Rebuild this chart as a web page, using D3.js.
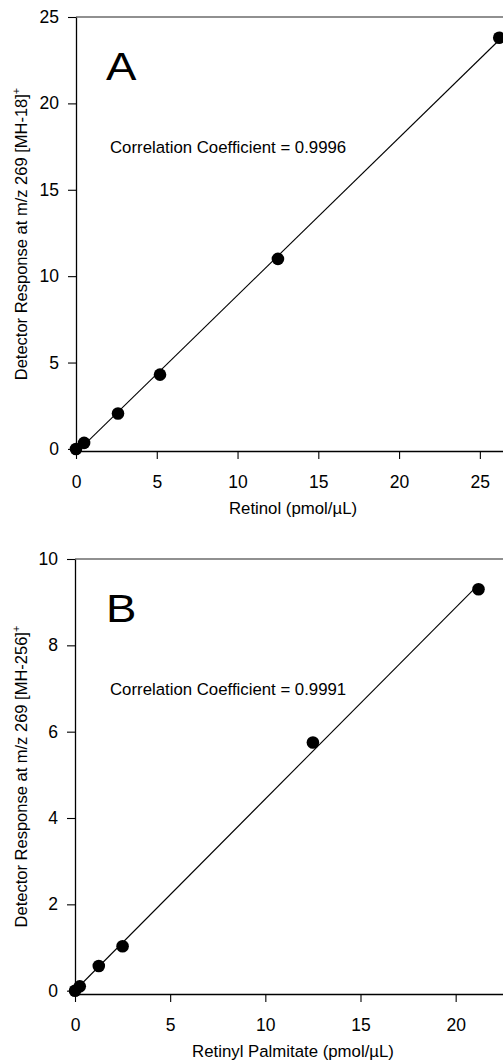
<!DOCTYPE html>
<html>
<head>
<meta charset="utf-8">
<script src="https://cdn.jsdelivr.net/npm/d3@7"></script>
<style>
  html, body { margin: 0; padding: 0; background: #fff; }
  svg text { font-family: "Liberation Sans", Arial, sans-serif; fill: #000; }
</style>
</head>
<body>
<svg id="chart" width="503" height="1060"></svg>
<script>
// panel A: retinol calibration
const retinolX = [0, 0.5, 2.6, 5.2, 12.5, 26.2];
const retinolY = [0, 0.35, 2.05, 4.3, 11.0, 23.8];
const retinolXTicks = [0, 5, 10, 15, 20, 25];
const retinolYTicks = [0, 5, 10, 15, 20, 25];

// panel B: retinyl palmitate calibration
const palmitateX = [0, 0.25, 1.25, 2.5, 12.5, 21.2];
const palmitateY = [0, 0.1, 0.57, 1.03, 5.75, 9.3];
const palmitateXTicks = [0, 5, 10, 15, 20];
const palmitateYTicks = [0, 2, 4, 6, 8, 10];

const svg = d3.select("#chart");

function fitLine(xs, ys) {
  const mx = d3.mean(xs), my = d3.mean(ys);
  let sxy = 0, sxx = 0;
  xs.forEach((x, i) => {
    sxy += (x - mx) * (ys[i] - my);
    sxx += (x - mx) * (x - mx);
  });
  const slope = sxy / sxx;
  return { slope, intercept: my - slope * mx };
}

function drawPanel(cfg) {
  const g = svg.append("g");

  const x = d3.scaleLinear().domain(cfg.xDomain).range([cfg.left, 512]);
  const y = d3.scaleLinear().domain(cfg.yDomain).range([cfg.bottom, cfg.top]);

  // top frame line
  g.append("line")
    .attr("x1", cfg.left).attr("x2", 512)
    .attr("y1", cfg.top).attr("y2", cfg.top)
    .attr("stroke", "#222").attr("stroke-width", 1.2);

  const xAxis = g.append("g")
    .attr("transform", `translate(0,${cfg.bottom})`)
    .call(d3.axisBottom(x).tickValues(cfg.xTicks).tickSize(8).tickPadding(17).tickSizeOuter(0));

  const yAxis = g.append("g")
    .attr("transform", `translate(${cfg.left},0)`)
    .call(d3.axisLeft(y).tickValues(cfg.yTicks).tickSize(8).tickPadding(9).tickSizeOuter(0));

  [xAxis, yAxis].forEach(a => {
    a.select(".domain").attr("stroke", "#000").attr("stroke-width", 1.3);
    a.selectAll(".tick line").attr("stroke", "#000").attr("stroke-width", 1.1);
    a.selectAll("text")
      .style("font-family", '"Liberation Sans", Arial, sans-serif')
      .style("font-size", "17.5px")
      .attr("fill", "#000");
  });

  // regression line
  const fit = fitLine(cfg.xs, cfg.ys);
  const x0 = d3.min(cfg.xs), x1 = d3.max(cfg.xs);
  g.append("line")
    .attr("x1", x(x0)).attr("y1", y(fit.intercept + fit.slope * x0))
    .attr("x2", x(x1)).attr("y2", y(fit.intercept + fit.slope * x1))
    .attr("stroke", "#000").attr("stroke-width", 1.1);

  g.selectAll("circle.pt")
    .data(cfg.xs.map((v, i) => [v, cfg.ys[i]]))
    .enter()
    .append("circle")
    .attr("class", "pt")
    .attr("cx", d => x(d[0]))
    .attr("cy", d => y(d[1]))
    .attr("r", 6.3)
    .attr("fill", "#000");

  // panel letter, a bit wider like the original
  g.append("text")
    .attr("transform", `translate(106,${cfg.top + 63}) scale(1.2,1)`)
    .style("font-size", "38px")
    .text(cfg.letter);

  g.append("text")
    .attr("x", 110).attr("y", cfg.top + 136)
    .style("font-size", "16.8px")
    .text(cfg.corr);

  // x axis title
  g.append("text")
    .attr("x", 293).attr("y", cfg.bottom + 63)
    .attr("text-anchor", "middle")
    .style("font-size", "16.8px")
    .text(cfg.xLabel);

  // y axis title, rotated
  const yt = g.append("text")
    .attr("transform", `translate(27,${(cfg.top + cfg.bottom) / 2}) rotate(-90)`)
    .attr("text-anchor", "middle")
    .style("font-size", "16.5px");
  yt.append("tspan").text(cfg.yLabel);
  yt.append("tspan").attr("dy", -7).style("font-size", "11px").text("+");
}

drawPanel({
  letter: "A",
  corr: "Correlation Coefficient = 0.9996",
  xLabel: "Retinol (pmol/\u00b5L)",
  yLabel: "Detector Response at m/z 269 [MH-18]",
  xs: retinolX, ys: retinolY,
  xTicks: retinolXTicks, yTicks: retinolYTicks,
  xDomain: [0, 26.99], yDomain: [-0.12, 25],
  left: 76, top: 17, bottom: 451
});

drawPanel({
  letter: "B",
  corr: "Correlation Coefficient = 0.9991",
  xLabel: "Retinyl Palmitate (pmol/\u00b5L)",
  yLabel: "Detector Response at m/z 269 [MH-256]",
  xs: palmitateX, ys: palmitateY,
  xTicks: palmitateXTicks, yTicks: palmitateYTicks,
  xDomain: [0, 22.96], yDomain: [-0.077, 10],
  left: 75, top: 559, bottom: 994
});
</script>
</body>
</html>
